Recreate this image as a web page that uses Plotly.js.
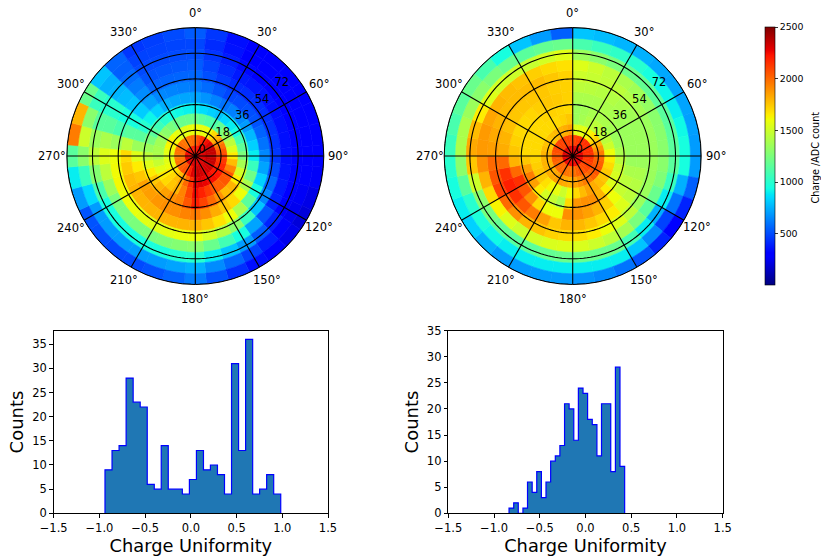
<!DOCTYPE html>
<html><head><meta charset="utf-8">
<script src="https://cdn.plot.ly/plotly-3.0.1.min.js"></script>
<style>html,body{margin:0;padding:0;background:#fff}#c{width:821px;height:559px}</style>
</head><body><div id="c"></div>
<script>
// Charge maps: ring rows, one value per sector
const ringStarts=[0,7.5,15,22.5,30,37.5,45,52.5,60,67.5,75,82.5];
const ringStep=7.5, sectorStep=10;
const leftThetas=[0,10,20,30,40,50,60,70,80,90,100,110,120,130,140,150,160,170,180,190,200,210,220,230,240,250,260,270,280,290,300,310,320,330,340,350];
const rightThetas=[5,15,25,35,45,55,65,75,85,95,105,115,125,135,145,155,165,175,185,195,205,215,225,235,245,255,265,275,285,295,305,315,325,335,345,355];
const leftRing1=[2200,2220,2240,2250,2270,2280,2300,2300,2300,2300,2300,2300,2300,2300,2300,2300,2300,2300,2300,2300,2300,2300,2300,2300,2300,2300,2300,2250,2250,2250,2250,2250,2250,2200,2200,2200];
const leftRing2=[2000,2060,2130,2200,2250,2300,2350,2350,2350,2350,2350,2350,2350,2330,2320,2300,2320,2340,2350,2300,2200,2100,2060,2030,2000,1980,1960,1950,1970,1990,2000,1990,1970,1950,1970,1990];
const leftRing3=[1600,1590,1590,1600,1700,1800,1900,1980,2050,2100,2130,2170,2200,2220,2240,2250,2270,2290,2300,2150,2000,1850,1770,1700,1650,1600,1570,1550,1580,1620,1650,1620,1580,1550,1570,1590];
const leftRing4=[1200,1160,1120,1100,1180,1270,1350,1450,1550,1650,1780,1920,2050,2050,2030,2050,2120,2190,2250,2100,1930,1800,1750,1700,1650,1570,1480,1400,1390,1370,1350,1300,1250,1200,1200,1200];
const leftRing5=[900,860,830,800,850,900,950,1080,1170,1250,1380,1520,1650,1800,1780,1900,2000,2100,2200,2050,1930,1900,1850,1800,1750,1650,1550,1450,1350,1250,1150,1070,1000,950,930,910];
const leftRing6=[720,680,640,600,630,660,700,770,830,900,1050,1220,1400,1600,1700,1750,1820,1900,1950,1930,1900,1900,1880,1860,1850,1750,1650,1550,1350,1150,1000,920,830,750,730,725];
const leftRing7=[620,580,530,490,500,510,520,560,600,650,720,830,950,1150,1400,1600,1680,1750,1800,1800,1800,1800,1800,1800,1800,1780,1740,1700,1450,1150,950,820,720,650,640,630];
const leftRing8=[570,510,460,420,425,430,430,435,440,450,500,570,650,800,1050,1300,1420,1520,1600,1590,1570,1550,1570,1590,1600,1620,1610,1600,1350,1100,950,800,660,560,560,565];
const leftRing9=[540,480,420,380,370,360,350,350,350,350,360,380,400,520,720,950,1080,1200,1300,1280,1260,1250,1250,1250,1250,1350,1450,1550,1400,1150,1000,780,620,520,525,530];
const leftRing10=[510,450,390,340,320,310,300,310,315,320,310,300,300,400,540,700,800,900,1000,980,960,950,950,950,950,1100,1280,1450,1350,1150,1000,760,580,500,500,505];
const leftRing11=[490,420,360,310,300,290,280,285,295,300,280,265,250,310,390,480,570,660,750,720,700,700,700,700,700,850,1050,1300,1500,1300,1050,750,550,480,480,485];
const leftRing12=[540,450,350,290,280,280,280,285,295,300,270,230,200,240,290,350,430,520,620,560,520,500,500,510,520,700,900,1150,1950,1800,1200,800,560,450,470,500];
const rightRing1=[2300,2300,2300,2300,2300,2300,2280,2280,2280,2280,2280,2280,2280,2280,2280,2250,2250,2250,2250,2250,2250,2250,2250,2280,2280,2280,2280,2300,2300,2300,2300,2300,2300,2300,2300,2300];
const rightRing2=[2100,2120,2140,2150,2150,2150,2150,2150,2150,2150,2130,2110,2100,2080,2060,2050,2020,1980,1950,1960,1980,2000,2000,2000,2000,2020,2040,2050,2070,2090,2100,2100,2100,2100,2100,2100];
const rightRing3=[1550,1560,1580,1620,1660,1710,1800,1880,1950,2000,2030,2050,2050,2020,1980,1950,1900,1850,1800,1820,1840,1850,1830,1810,1800,1800,1800,1800,1780,1760,1750,1770,1790,1800,1820,1850];
const rightRing4=[1350,1380,1420,1450,1450,1450,1450,1500,1600,1650,1700,1740,1750,1780,1820,1850,1780,1700,1600,1500,1580,1620,1680,1740,1750,1730,1710,1700,1700,1700,1700,1700,1700,1700,1720,1750];
const rightRing5=[1350,1370,1390,1400,1400,1380,1350,1360,1400,1450,1500,1530,1550,1650,1800,1900,1900,1880,1700,1400,1480,1520,1650,1850,1950,1850,1750,1700,1700,1700,1700,1700,1710,1720,1710,1700];
const rightRing6=[1400,1400,1400,1400,1390,1370,1350,1350,1350,1350,1400,1450,1480,1600,1720,1800,1850,1890,1900,1600,1600,1700,1900,2050,2150,2000,1800,1750,1720,1700,1700,1710,1730,1750,1740,1720];
const rightRing7=[1450,1440,1430,1420,1400,1370,1350,1350,1350,1350,1400,1430,1450,1550,1650,1700,1750,1790,1800,1750,1850,1950,2050,2150,2200,2150,2000,1820,1800,1770,1750,1750,1750,1750,1730,1720];
const rightRing8=[1500,1480,1460,1450,1420,1380,1350,1350,1350,1350,1350,1350,1350,1450,1550,1600,1650,1690,1700,1720,1760,1800,1900,2000,2100,2050,2000,1860,1830,1800,1780,1780,1780,1780,1750,1720];
const rightRing9=[1550,1500,1450,1400,1370,1330,1300,1300,1300,1300,1270,1200,1150,1250,1380,1450,1500,1540,1550,1540,1520,1500,1550,1630,1700,1800,1900,1870,1870,1840,1800,1780,1760,1730,1700,1680];
const rightRing10=[1350,1300,1250,1200,1180,1160,1150,1150,1150,1150,1050,900,750,900,1080,1200,1200,1200,1200,1180,1160,1150,1180,1240,1300,1500,1750,1830,1780,1650,1550,1520,1500,1480,1520,1560];
const rightRing11=[1100,1050,1020,1000,950,920,900,930,950,950,750,600,480,650,800,900,900,900,900,900,900,900,930,970,1000,1150,1300,1400,1400,1350,1300,1250,1200,1150,1180,1200];
const rightRing12=[800,780,760,750,730,720,720,710,700,700,550,400,300,400,520,600,650,680,700,700,700,700,750,830,900,950,1000,1050,1100,1150,1200,1100,950,800,700,550];
const leftRings=[leftRing1,leftRing2,leftRing3,leftRing4,leftRing5,leftRing6,leftRing7,leftRing8,leftRing9,leftRing10,leftRing11,leftRing12];
const rightRings=[rightRing1,rightRing2,rightRing3,rightRing4,rightRing5,rightRing6,rightRing7,rightRing8,rightRing9,rightRing10,rightRing11,rightRing12];

// Histograms
const leftEdges=[-0.939,-0.862,-0.785,-0.708,-0.631,-0.554,-0.477,-0.400,-0.324,-0.247,-0.170,-0.093,-0.016,0.061,0.138,0.214,0.291,0.368,0.445,0.522,0.599,0.676,0.752,0.829,0.906,0.983];
const leftCounts=[9,13,14,28,23,22,6,5,14,5,5,4,7,13,9,10,8,4,31,13,36,4,5,8,4];
const rightEdges=[-0.836,-0.785,-0.735,-0.684,-0.634,-0.583,-0.533,-0.482,-0.432,-0.381,-0.330,-0.280,-0.229,-0.179,-0.128,-0.078,-0.027,0.023,0.074,0.125,0.175,0.226,0.276,0.327,0.377,0.428];
const rightCounts=[1,2,0,1,6,4,8,3,6,10,11,13,21,20,14,24,23,18,17,11,21,21,8,28,9];

const radialTicks=[18,36,54,72,90];
const radialLabels=['0','18','36','54','72'];
const radialLabelR=[6,25,43,61,79];
const radialLabelTheta=50;
const angleTicks=[0,30,60,90,120,150,180,210,240,270,300,330];
const angleLabels=['0°','30°','60°','90°','120°','150°','180°','210°','240°','270°','300°','330°'];
const histXTicks=[-1.5,-1,-0.5,0,0.5,1,1.5];
const leftYTicks=[0,5,10,15,20,25,30,35];
const rightYTicks=[0,5,10,15,20,25,30,35];
const jet=[[0,'rgb(0,0,127)'],[0.11,'rgb(0,0,255)'],[0.125,'rgb(0,0,255)'],[0.34,'rgb(0,219,255)'],[0.35,'rgb(0,229,247)'],[0.375,'rgb(20,255,226)'],[0.64,'rgb(238,255,8)'],[0.65,'rgb(247,246,0)'],[0.66,'rgb(255,236,0)'],[0.89,'rgb(255,20,0)'],[0.91,'rgb(232,0,0)'],[1,'rgb(127,0,0)']];
const cMin=6,cMax=2500,colorbarTicks=[500,1000,1500,2000,2500];

const W=821,H=559,FONT='DejaVu Sans',CY=156,RADIUS=128.5,LABEL_RADIUS=143;
function mapTrace(rings,thetas,sub,withBar){
  const r=[],base=[],theta=[],color=[];
  rings.forEach((row,i)=>row.forEach((v,j)=>{r.push(ringStep);base.push(ringStarts[i]);theta.push(thetas[j]);color.push(v);}));
  const t={type:'barpolar',subplot:sub,r,base,theta,width:theta.map(()=>sectorStep),hoverinfo:'skip',
    marker:{color,colorscale:jet,cmin:cMin,cmax:cMax,showscale:withBar,
      line:{width:0.6,color,colorscale:jet,cmin:cMin,cmax:cMax}}};
  if(withBar) t.marker.colorbar={x:765/W,xref:'paper',xanchor:'left',y:1-285/H,yref:'paper',yanchor:'bottom',
    thickness:10,thicknessmode:'pixels',len:258,lenmode:'pixels',xpad:0,ypad:0,outlinecolor:'#000',outlinewidth:0.6,
    tickvals:colorbarTicks,ticks:'outside',ticklen:3,tickwidth:0.8,tickcolor:'#000',
    tickfont:{family:FONT,size:9.4,color:'#000'}};
  return t;
}
function gridTraces(sub){
  const out=[];
  radialTicks.forEach(R=>{const th=[],rr=[];for(let a=0;a<=360;a+=2){th.push(a);rr.push(R);}
    out.push({type:'scatterpolar',subplot:sub,mode:'lines',r:rr,theta:th,line:{color:'#000',width:1.1},hoverinfo:'skip',cliponaxis:false});});
  angleTicks.forEach(a=>out.push({type:'scatterpolar',subplot:sub,mode:'lines',r:[0,90],theta:[a,a],line:{color:'#000',width:1.1},hoverinfo:'skip',cliponaxis:false}));
  out.push({type:'scatterpolar',subplot:sub,mode:'text',r:radialLabelR,theta:radialLabels.map(()=>radialLabelTheta),text:radialLabels,
    textfont:{family:FONT,size:11.5,color:'#000'},textposition:'middle center',hoverinfo:'skip',cliponaxis:false});
  return out;
}
function angleAnnotations(cx){
  return angleTicks.map((a,i)=>({text:angleLabels[i],xref:'paper',yref:'paper',
    x:(cx+LABEL_RADIUS*Math.sin(a*Math.PI/180))/W,y:1-(CY-LABEL_RADIUS*Math.cos(a*Math.PI/180))/H,
    xanchor:'center',yanchor:'middle',showarrow:false,font:{family:FONT,size:11.5,color:'#000'}}));
}
function histTrace(edges,counts,xa,ya){
  const x=[edges[0]],y=[0];
  counts.forEach((c,i)=>{x.push(edges[i],edges[i+1]);y.push(c,c);});
  x.push(edges[edges.length-1]);y.push(0);
  return {type:'scatter',mode:'lines',xaxis:xa,yaxis:ya,x,y,fill:'tozeroy',fillcolor:'#1f77b4',line:{color:'#0000ff',width:1.2},hoverinfo:'skip'};
}
function polarLayout(cx){
  return {domain:{x:[(cx-RADIUS)/W,(cx+RADIUS)/W],y:[1-(CY+RADIUS)/H,1-(CY-RADIUS)/H]},bgcolor:'rgba(0,0,0,0)',bargap:0,
    radialaxis:{visible:false,range:[0,90]},
    angularaxis:{rotation:90,direction:'clockwise',tickmode:'array',tickvals:angleTicks,showticklabels:false,
      showgrid:false,showline:true,linecolor:'#000',linewidth:1,ticks:''}};
}
function xAxis(x0,x1,anchor){
  return {domain:[x0/W,x1/W],anchor,range:[-1.5,1.5],tickmode:'array',tickvals:histXTicks,ticktext:histXTicks.map(v=>(v<0?'\u2212':'')+Math.abs(v).toFixed(1)),
    showgrid:false,zeroline:false,showline:true,mirror:true,linecolor:'#000',linewidth:1,ticks:'outside',ticklen:3.5,tickcolor:'#000',
    tickfont:{family:FONT,size:11.5,color:'#000'},title:{text:'Charge Uniformity',standoff:2,font:{family:FONT,size:17.8,color:'#000'}}};
}
function yAxis(top,ticks,anchor){
  return {domain:[1-513.3/H,1-330.7/H],anchor,range:[0,top],tickmode:'array',tickvals:ticks,
    showgrid:false,zeroline:false,showline:true,mirror:true,linecolor:'#000',linewidth:1,ticks:'outside',ticklen:3.5,tickcolor:'#000',
    tickfont:{family:FONT,size:11.5,color:'#000'},title:{text:'Counts',standoff:3,font:{family:FONT,size:18,color:'#000'}}};
}
const data=[mapTrace(leftRings,leftThetas,'polar',false),...gridTraces('polar'),
  mapTrace(rightRings,rightThetas,'polar2',true),...gridTraces('polar2'),
  histTrace(leftEdges,leftCounts,'x','y'),histTrace(rightEdges,rightCounts,'x2','y2')];
const layout={width:W,height:H,margin:{l:0,r:0,t:0,b:0},paper_bgcolor:'#fff',plot_bgcolor:'#fff',showlegend:false,
  font:{family:FONT},
  polar:polarLayout(195.3),polar2:polarLayout(572.7),
  xaxis:xAxis(53.7,328,'y'),yaxis:yAxis(37.8,leftYTicks,'x'),
  xaxis2:xAxis(448.3,722.7,'y2'),yaxis2:yAxis(35,rightYTicks,'x2'),
  annotations:[...angleAnnotations(195.3),...angleAnnotations(572.7),
    {text:'Charge /ADC count',xref:'paper',yref:'paper',x:815/W,y:1-157.5/H,xanchor:'center',yanchor:'middle',textangle:-90,showarrow:false,font:{family:FONT,size:9.6,color:'#000'}}]};
Plotly.newPlot('c',data,layout,{displayModeBar:false,staticPlot:true});
</script></body></html>
